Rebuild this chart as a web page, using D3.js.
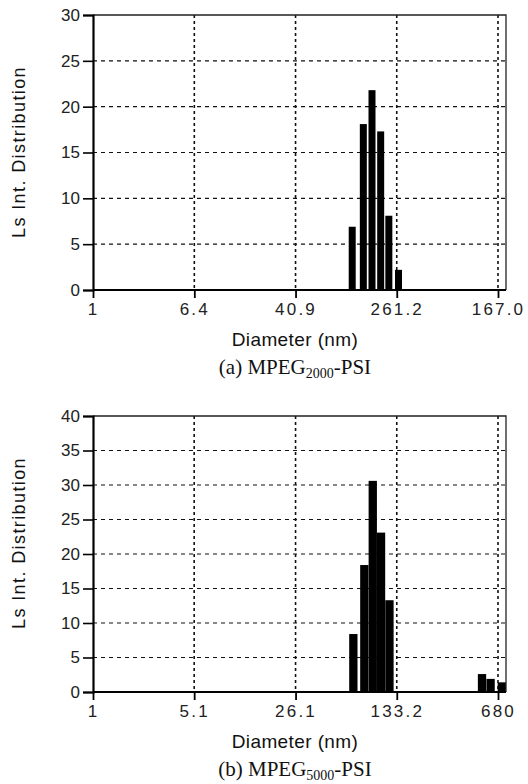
<!DOCTYPE html>
<html>

<head>
    <meta charset="UTF-8" />
    <script src="https://d3js.org/d3.v7.min.js"></script>
    <style>
        body { margin: 0; background: #fff; }
    </style>
</head>

<body>
    <script>
        // (a) MPEG2000-PSI
        const topDiameters = [115.5, 141.6, 166, 194.6, 226, 269.8];
        const topValues = [6.9, 18.1, 21.8, 17.3, 8.1, 2.2];
        const topTicks = [1, 6.4, 40.9, 261.2, 1670];
        const topTickLabels = ["1", "6.4", "40.9", "261.2", "167.0"];
        const topYTicks = [0, 5, 10, 15, 20, 25, 30];

        // (b) MPEG5000-PSI
        const bottomDiameters = [66.2, 79.0, 90.5, 103.4, 118.4, 525.6, 603.6, 723];
        const bottomValues = [8.4, 18.4, 30.6, 23.1, 13.3, 2.6, 1.9, 1.4];
        const bottomTicks = [1, 5.1, 26.1, 133.2, 680];
        const bottomTickLabels = ["1", "5.1", "26.1", "133.2", "680"];
        const bottomYTicks = [0, 5, 10, 15, 20, 25, 30, 35, 40];

        const width = 528;
        const height = 784;

        let svg = d3.select("body")
            .append("svg")
            .attr("width", width)
            .attr("height", height)

        function panel(diam, vals, ticks, tickLabels, yTicks, yRange, barW, ytitleY, captionNo) {
            let x = d3.scaleLog()
                .domain([ticks[0], ticks[ticks.length - 1]])
                .range([93, 498]);
            let y = d3.scaleLinear()
                .domain([0, yTicks[yTicks.length - 1]])
                .range(yRange);
            let right = 506;
            let g = svg.append("g");

            // horizontal grid
            g.selectAll(".hgrid")
                .data(yTicks.slice(1, -1))
                .join("line")
                .attr("x1", x.range()[0]).attr("x2", right)
                .attr("y1", d => y(d)).attr("y2", d => y(d))
                .attr("stroke", "#111")
                .attr("stroke-width", 1.2)
                .attr("stroke-dasharray", "4,4");

            // vertical grid
            g.selectAll(".vgrid")
                .data(ticks.slice(1))
                .join("line")
                .attr("x1", d => x(d)).attr("x2", d => x(d))
                .attr("y1", y.range()[1]).attr("y2", y(0))
                .attr("stroke", "#111")
                .attr("stroke-width", 1.6)
                .attr("stroke-dasharray", "3,3");

            // bars
            g.selectAll(".bar")
                .data(vals)
                .join("rect")
                .attr("x", (d, i) => x(diam[i]) - barW / 2)
                .attr("width", barW)
                .attr("y", d => y(d))
                .attr("height", d => y(0) - y(d))
                .attr("fill", "#000");

            // box top and right
            g.append("path")
                .attr("d", `M${x.range()[0]},${y.range()[1]}H${right}V${y(0)}`)
                .attr("fill", "none")
                .attr("stroke", "#222")
                .attr("stroke-width", 1.3);

            // left axis
            let yAxis = d3.axisLeft(y)
                .tickValues(yTicks)
                .tickSize(10)
                .tickPadding(3)
                .tickFormat(d3.format("d"));
            let ya = g.append("g")
                .attr("transform", `translate(${x.range()[0]},0)`)
                .call(yAxis);
            ya.select(".domain").attr("stroke-width", 2.2).attr("stroke", "#000");
            ya.selectAll(".tick line").attr("stroke-width", 1.6).attr("stroke", "#000");
            ya.selectAll("text")
                .attr("font-family", "Liberation Sans, Arial, sans-serif")
                .attr("font-size", 17)
                .attr("fill", "#222");

            // bottom axis
            let xAxis = d3.axisBottom(x)
                .tickValues(ticks)
                .tickSize(8)
                .tickPadding(5)
                .tickFormat((d, i) => tickLabels[i]);
            let xa = g.append("g")
                .attr("transform", `translate(0,${y(0)})`)
                .call(xAxis);
            xa.select(".domain")
                .attr("d", `M${x.range()[0]},0H${right}`)
                .attr("stroke-width", 2.2).attr("stroke", "#000");
            xa.selectAll(".tick line").attr("stroke-width", 1.8).attr("stroke", "#000");
            xa.selectAll("text")
                .attr("font-family", "Liberation Sans, Arial, sans-serif")
                .attr("font-size", 17)
                .attr("letter-spacing", 2.2)
                .attr("fill", "#222");

            // axis titles
            g.append("text")
                .attr("x", 295)
                .attr("y", y(0) + 56)
                .style("text-anchor", "middle")
                .attr("font-family", "Liberation Sans, Arial, sans-serif")
                .attr("font-size", 19)
                .attr("letter-spacing", 0.4)
                .attr("fill", "#111")
                .text("Diameter (nm)");

            g.append("text")
                .attr("transform", `translate(25,${ytitleY}) rotate(-90)`)
                .style("text-anchor", "middle")
                .attr("font-family", "Liberation Sans, Arial, sans-serif")
                .attr("font-size", 18)
                .attr("letter-spacing", 1.4)
                .attr("fill", "#111")
                .text("Ls Int. Distribution");

            let cap = g.append("text")
                .attr("x", 295)
                .attr("y", y(0) + 84)
                .style("text-anchor", "middle")
                .attr("font-family", "Liberation Serif, Times New Roman, serif")
                .attr("font-size", 21)
                .attr("fill", "#111");
            cap.append("tspan").text(captionNo[0] + " MPEG");
            cap.append("tspan").attr("font-size", 14).attr("dy", 4).text(captionNo[1]);
            cap.append("tspan").attr("dy", -4).text("-PSI");
        }

        panel(topDiameters, topValues, topTicks, topTickLabels, topYTicks,
            [290, 15], 7, 152, ["(a)", "2000"]);
        panel(bottomDiameters, bottomValues, bottomTicks, bottomTickLabels, bottomYTicks,
            [692, 416], 8.3, 543, ["(b)", "5000"]);
    </script>
</body>

</html>
